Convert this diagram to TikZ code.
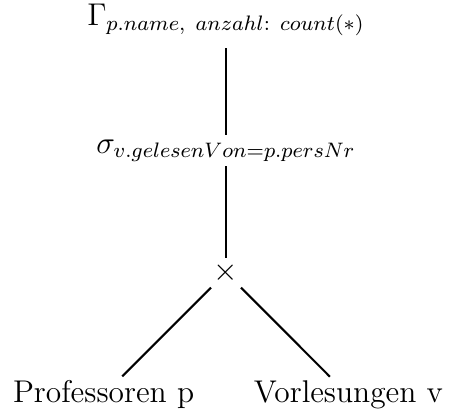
\documentclass[12pt,tikz,border=0pt]{standalone}
\usepackage{amsmath,amssymb}
\usetikzlibrary{positioning}
\newdimen\levelDist
\newdimen\childDist
\levelDist=48.6pt
\childDist=66.1pt

\begin{document}
\begin{tikzpicture}[
    op/.style={%
      anchor=base,
      inner sep=1.5pt,
    },
    edge/.style={%
      line width=0.8pt,
    },
  ]
    \useasboundingbox (-86.3pt,-148.9pt) rectangle (85.9pt,9.9pt);

    \node [op] (gamma) at (0,0) {$\Gamma_{p.name,\ anzahl:\ count(*)}$};
    \path (gamma.base) ++(-90:\levelDist) node [op] (sigma) {$\sigma_{v.gelesenVon=p.persNr}$};
    \path (sigma.base) ++(-90:\levelDist) node [op] (cross) {$\times$};
    \path (cross.base) ++(-135:\childDist) node [op] (prof) {Professoren p};
    \path (cross.base) ++(-45:\childDist) node [op] (vorl) {Vorlesungen v};

    \draw [edge,shorten <=3pt] (gamma) -- (sigma);
    \draw [edge] (sigma) -- (cross);
    \draw [edge] (cross) -- (prof);
    \draw [edge] (cross) -- (vorl);
\end{tikzpicture}
\end{document}
